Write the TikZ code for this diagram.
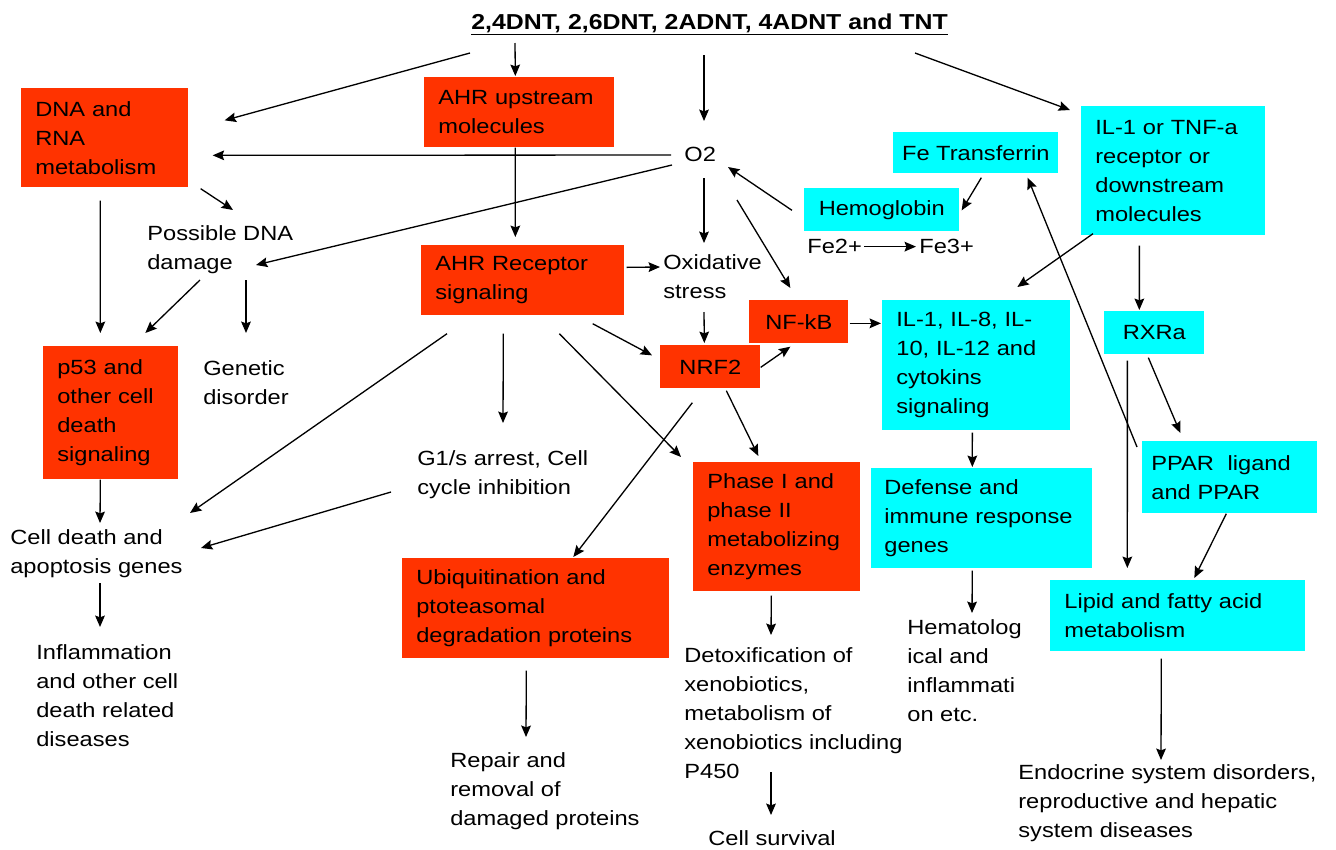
\documentclass[tikz,border=0pt]{standalone}
\usepackage{fontspec}
\setmainfont{Liberation Sans}[FakeStretch=1.15]
\usetikzlibrary{calc,arrows.meta}

\definecolor{boxred}{RGB}{255,51,0}
\definecolor{boxcyan}{RGB}{0,255,255}
\newcommand{\diagfont}{\fontsize{11.7}{16.5}\selectfont}

\begin{document}
\begin{tikzpicture}[x=0.02cm, y=-0.02cm]
	\tikzset{redbox/.style={fill=boxred,
				anchor=north west,
				inner xsep=0.28cm,
				inner ysep=0pt,
				align=left,
				font=\diagfont},
			cyanbox/.style={redbox,
				fill=boxcyan},
			smallbox/.style={inner xsep=1pt,
				align=center},
			plaintext/.style={anchor=north west,
				inner sep=0pt,
				align=left,
				font=\diagfont},
			arrow/.style={->,
				>={Stealth[length=6.5pt, width=5.5pt, inset=1pt]},
				line width=0.75pt}}
	\path[fill=white, use as bounding box] (0,0) rectangle (1336,849);

	% Nodes
	\node[plaintext, font=\fontsize{12.3}{16.5}\selectfont\bfseries] (title) at (471,13) {\underline{2,4DNT, 2,6DNT, 2ADNT, 4ADNT and TNT}};
	\node[redbox, text width=2.78cm, minimum height=1.98cm] (dna) at (21,88) {DNA and\\RNA\\metabolism};
	\node[redbox, text width=3.24cm, minimum height=1.40cm] (ahrup) at (424,77) {AHR upstream\\molecules};
	\node[redbox, text width=3.50cm, minimum height=1.40cm] (ahrrec) at (421,245) {AHR Receptor\\signaling};
	\node[redbox, smallbox, minimum width=2.00cm, minimum height=0.86cm] (nrf2) at (660,345) {NRF2};
	\node[redbox, smallbox, minimum width=1.98cm, minimum height=0.86cm] (nfkb) at (749,300) {NF-kB};
	\node[redbox, text width=2.14cm, minimum height=2.66cm] (p53) at (43,346) {p53 and\\other cell\\death\\signaling};
	\node[redbox, text width=4.78cm, minimum height=2.00cm] (ubiq) at (402,558) {Ubiquitination and\\ptoteasomal\\degradation proteins};
	\node[redbox, text width=2.78cm, minimum height=2.58cm] (phase) at (693,462) {Phase I and\\phase II\\metabolizing\\enzymes};
	\node[cyanbox, smallbox, minimum width=3.30cm, minimum height=0.82cm] (fet) at (893,132) {Fe Transferrin};
	\node[cyanbox, smallbox, minimum width=3.10cm, minimum height=0.86cm] (hemo) at (804,188) {Hemoglobin};
	\node[cyanbox, text width=3.12cm, minimum height=2.58cm] (il1tnf) at (1081,106) {IL-1 or TNF-a\\receptor or\\downstream\\molecules};
	\node[cyanbox, text width=3.20cm, minimum height=2.60cm] (ilcyt) at (882,300) {IL-1, IL-8, IL-\\10, IL-12 and\\cytokins\\signaling};
	\node[cyanbox, smallbox, minimum width=2.00cm, minimum height=0.86cm] (rxra) at (1104,311) {RXRa};
	\node[cyanbox, inner xsep=0.18cm, text width=3.14cm, minimum height=1.44cm] (ppar) at (1142,441) {PPAR\ \ ligand\\and PPAR};
	\node[cyanbox, inner xsep=0.26cm, text width=3.90cm, minimum height=2.00cm] (defense) at (871,468) {Defense and\\immune response\\genes};
	\node[cyanbox, text width=4.54cm, minimum height=1.42cm] (lipid) at (1050,580) {Lipid and fatty acid\\metabolism};

	\node[plaintext] (o2) at (684,147) {O2};
	\node[plaintext] (possible) at (147,225) {Possible DNA\\damage};
	\node[plaintext] (genetic) at (203,360) {Genetic\\disorder};
	\node[plaintext] (celldeath) at (10,529) {Cell death and\\apoptosis genes};
	\node[plaintext] (inflam) at (36,644) {Inflammation\\and other cell\\death related\\diseases};
	\node[plaintext] (g1s) at (417,450) {G1/s arrest, Cell\\cycle inhibition};
	\node[plaintext] (oxid) at (663,254) {Oxidative\\stress};
	\node[plaintext] (fe2) at (807,239) {Fe2+};
	\node[plaintext] (fe3) at (919,239) {Fe3+};
	\node[plaintext] (hemat) at (907,619) {Hematolog\\ical and\\inflammati\\on etc.};
	\node[plaintext] (detox) at (684,647) {Detoxification of\\xenobiotics,\\metabolism of\\xenobiotics including\\P450};
	\node[plaintext] (survival) at (708,830) {Cell survival};
	\node[plaintext] (repair) at (450,752) {Repair and\\removal of\\damaged proteins};
	\node[plaintext] (endocrine) at (1018,764) {Endocrine system disorders,\\reproductive and hepatic\\system diseases};

	% Arrows
	\draw[arrow] ($(title.north west)+(-1,40)$) -- ($(dna.east)+(36,-17.5)$);
	\draw[arrow] ($(title.north west)+(44,30)$) -- ($(ahrup.north)+(-4,-1)$);
	\draw[arrow] ($(title.north west)+(233,42)$) -- ($(o2.north west)+(20,-26)$);
	\draw[arrow] ($(title.north west)+(444,40)$) -- ($(il1tnf.north west)+(-11,4)$);
	\draw[arrow] ($(o2.north west)+(-13,8)$) -- ($(dna.east)+(24,17.5)$);
	\draw[arrow] ($(o2.north west)+(-12,18)$) -- ($(possible.north west)+(109,40)$);
	\draw[arrow] ($(o2.north west)+(20,31)$) -- ($(oxid.north west)+(41,-11)$);
	\draw[arrow] ($(o2.north west)+(53,53)$) -- ($(nfkb.north)+(-8.5,-12)$);
	\draw[arrow] ($(hemo.west)+(-12,0.5)$) -- ($(o2.north west)+(44,20)$);
	\draw[arrow] ($(fet.south)+(5.5,4)$) -- ($(hemo.east)+(2,0.5)$);
	\draw[arrow] ($(fe2.east)+(2,0)$) -- ($(fe3.west)+(-3,0)$);
	\draw[arrow] ($(ahrup.south)+(-4,0)$) -- ($(ahrrec.north)+(-7.5,-8)$);
	\draw[arrow] ($(dna.south east)+(12,1)$) -- ($(possible.north west)+(86,-15)$);
	\draw[arrow] ($(dna.south)+(-4.5,13)$) -- ($(p53.north)+(-10.5,-13)$);
	\draw[arrow] ($(possible.north west)+(53,55)$) -- ($(p53.north)+(34.5,-13)$);
	\draw[arrow] ($(possible.north west)+(99,55)$) -- ($(genetic.north west)+(43,-27)$);
	\draw[arrow] ($(p53.south)+(-10.5,0)$) -- ($(celldeath.north west)+(90,-6)$);
	\draw[arrow] ($(ahrrec.south west)+(26,18)$) -- ($(celldeath.north west)+(180,-16)$);
	\draw[arrow] ($(g1s.north west)+(-26,42)$) -- ($(celldeath.north west)+(191,19)$);
	\draw[arrow] ($(celldeath.north west)+(90,54)$) -- ($(inflam.north west)+(64,-17)$);
	\draw[arrow] ($(ahrrec.south)+(-19.5,18)$) -- ($(g1s.north west)+(86,-27)$);
	\draw[arrow] ($(ahrrec.east)+(2,-13)$) -- ($(oxid.north west)+(-3,13)$);
	\draw[arrow] ($(ahrrec.south east)+(-32,8)$) -- ($(nrf2.west)+(-8,-11.5)$);
	\draw[arrow] ($(ahrrec.south)+(36.5,18)$) -- ($(phase.north west)+(-12,-5)$);
	\draw[arrow] ($(oxid.north west)+(41,58)$) -- ($(nrf2.north)+(-6,-2)$);
	\draw[arrow] ($(nrf2.east)+(0,0.5)$) -- ($(nfkb.south)+(-8.5,3)$);
	\draw[arrow] ($(nrf2.south)+(-18,14)$) -- ($(ubiq.north)+(37.5,-1)$);
	\draw[arrow] ($(nrf2.south)+(16,2)$) -- ($(phase.north)+(-18.5,-6)$);
	\draw[arrow] ($(nfkb.east)+(1,1.5)$) -- ($(nfkb.east -| ilcyt.west)+(-1,1.5)$);
	\draw[arrow] ($(ubiq.south)+(-9.5,12)$) -- ($(repair.north west)+(76,-15)$);
	\draw[arrow] ($(phase.south)+(-5.5,4)$) -- ($(detox.north west)+(87,-12)$);
	\draw[arrow] ($(detox.north west)+(87,125)$) -- ($(survival.north west)+(63,-15)$);
	\draw[arrow] ($(il1tnf.south west)+(12,-2)$) -- ($(ilcyt.north)+(41,-13)$);
	\draw[arrow] ($(il1tnf.south)+(-34,10)$) -- ($(rxra.north)+(-15,-1)$);
	\draw[arrow] ($(ilcyt.south)+(-4,2)$) -- ($(defense.north)+(-9.5,-1)$);
	\draw[arrow] ($(defense.south)+(-9.5,2)$) -- ($(hemat.north west)+(65,-6)$);
	\draw[arrow] ($(ppar.north west)+(-5,6)$) -- ($(fet.south east)+(-31,4)$);
	\draw[arrow] ($(rxra.south)+(-27,6)$) -- ($(lipid.north)+(-50.5,-12)$);
	\draw[arrow] ($(rxra.south)+(-6,3)$) -- ($(ppar.north)+(-49.5,-8)$);
	\draw[arrow] ($(ppar.south)+(-3.5,0)$) -- ($(lipid.north)+(16.5,-2)$);
	\draw[arrow] ($(lipid.south)+(-16.5,7)$) -- ($(endocrine.north west)+(143,-4)$);
\end{tikzpicture}
\end{document}
